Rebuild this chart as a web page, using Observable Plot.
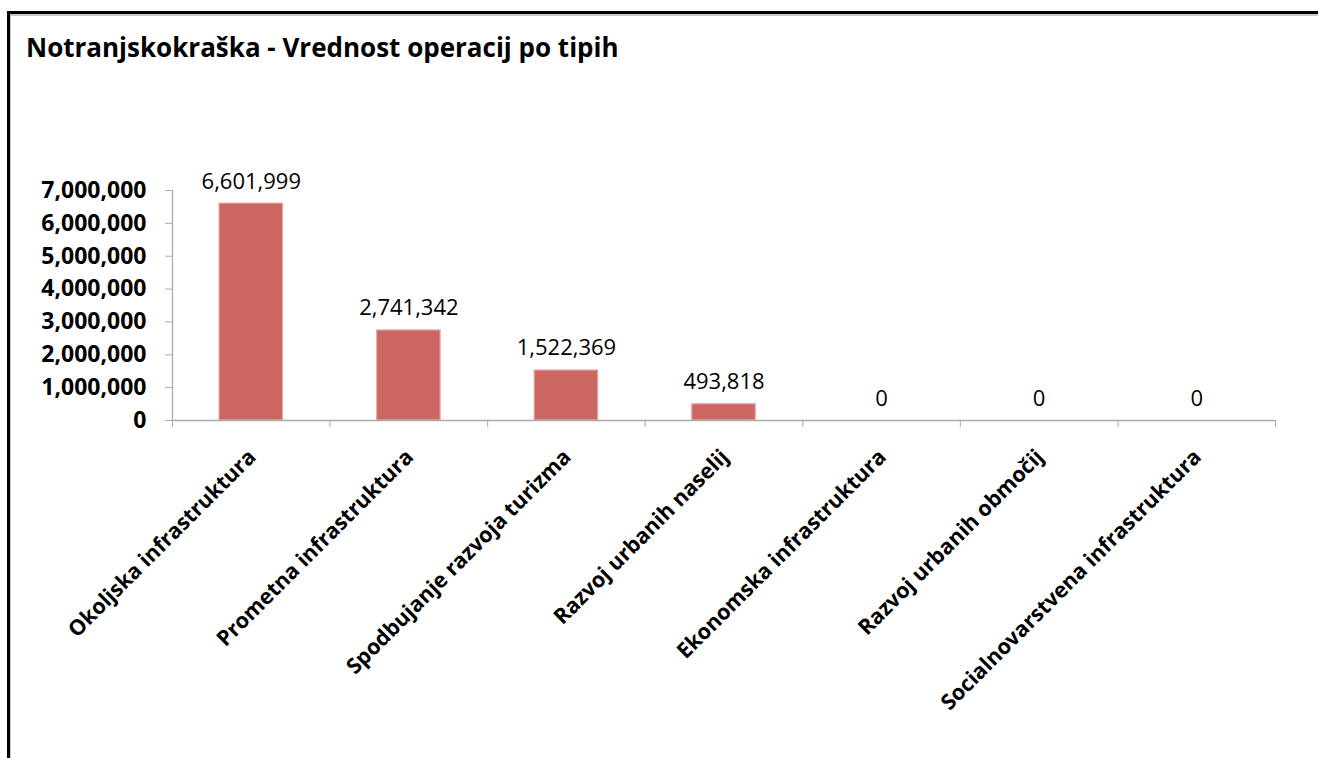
<!DOCTYPE html>
<html>
<head>
<meta charset="utf-8">
<script src="https://cdn.jsdelivr.net/npm/d3@7"></script>
<script src="https://cdn.jsdelivr.net/npm/@observablehq/plot@0.6"></script>
<style>
  html, body { margin: 0; padding: 0; background: #fff; }
  body { width: 1318px; height: 758px; overflow: hidden; position: relative; }
  #frame {
    position: absolute; left: 7px; top: 11px; width: 1400px; height: 800px;
    border-left: 3px solid #000; border-top: 3px solid #000;
    box-shadow: inset 1px 2px 0 #c8c8c8;
  }
  #title {
    position: absolute; left: 26px; top: 34px; margin: 0;
    font-family: "Open Sans", sans-serif; font-weight: 700; font-size: 26px;
    line-height: 26px; color: #000; white-space: nowrap;
  }
  #chart { position: absolute; left: 0; top: 0; }
</style>
</head>
<body>
<div id="frame"></div>
<div id="title">Notranjskokraška - Vrednost operacij po tipih</div>
<div id="chart"></div>
<script>
const categories = [
  "Okoljska infrastruktura",
  "Prometna infrastruktura",
  "Spodbujanje razvoja turizma",
  "Razvoj urbanih naselij",
  "Ekonomska infrastruktura",
  "Razvoj urbanih območij",
  "Socialnovarstvena infrastruktura"
];
const values = [6601999, 2741342, 1522369, 493818, 0, 0, 0];
const yTicks = [0, 1000000, 2000000, 3000000, 4000000, 5000000, 6000000, 7000000];

const data = categories.map((name, i) => ({i, name, value: values[i]}));
const fmt = d3.format(",");
const axisGray = "#ababab";

const chart = Plot.plot({
  width: 1318,
  height: 758,
  marginTop: 190,
  marginBottom: 338,
  marginLeft: 172,
  marginRight: 43,
  style: {fontFamily: "Open Sans, sans-serif", background: "transparent", overflow: "visible"},
  x: {type: "linear", domain: [0, categories.length], axis: null},
  y: {domain: [0, 7000000], axis: null},
  marks: [
    Plot.rectY(data, {
      x1: d => d.i, x2: d => d.i + 1, y1: 0, y2: "value",
      insetLeft: 47, insetRight: 47,
      fill: "#cc6661", stroke: "#e8aaa7", strokeWidth: 1.2
    }),
    Plot.ruleX([0], {y1: 0, y2: 7000000, stroke: axisGray, strokeWidth: 1.3}),
    Plot.ruleY([0], {x1: 0, x2: categories.length, stroke: axisGray, strokeWidth: 1.3}),
    Plot.axisY({
      ticks: yTicks, tickSize: 7, tickPadding: 19, stroke: axisGray, label: null,
      tickFormat: fmt, fontSize: 23, fontWeight: "bold", fill: "#000"
    }),
    Plot.axisX({
      ticks: d3.range(0, categories.length + 1), tickSize: 7, label: null,
      tickFormat: () => "", stroke: axisGray
    }),
    Plot.text(data, {
      x: d => d.i + 0.5, y: "value", text: d => fmt(d.value),
      lineAnchor: "bottom", dy: -15, fontSize: 22, fill: "#000"
    }),
    Plot.text(data, {
      x: d => d.i + 0.5, y: 0, text: "name",
      rotate: -45, textAnchor: "end", lineAnchor: "top",
      dx: -5, dy: 27, fontSize: 21.5, fontWeight: "bold", fill: "#000"
    })
  ]
});
document.getElementById("chart").appendChild(chart);
</script>
</body>
</html>
